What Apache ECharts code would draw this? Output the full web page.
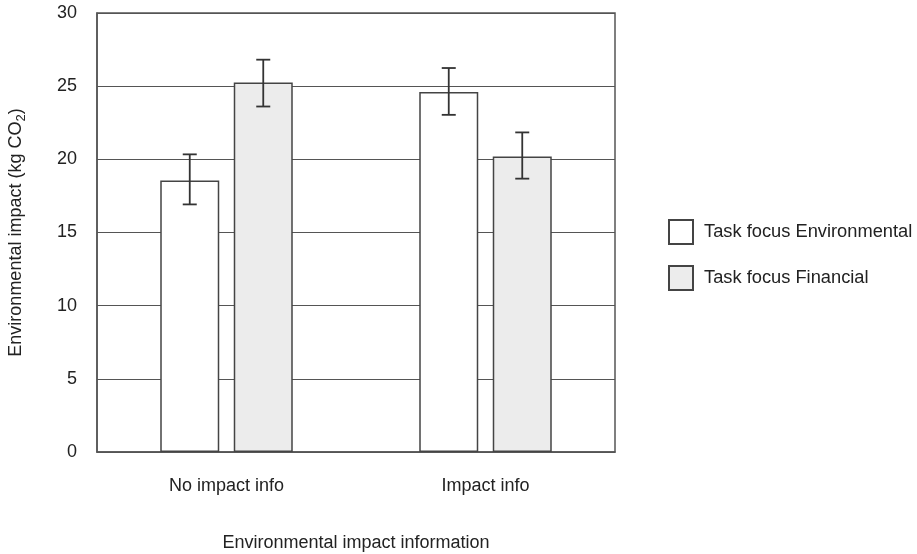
<!DOCTYPE html>
<html>
<head>
<meta charset="utf-8">
<script src="https://cdn.jsdelivr.net/npm/echarts@6/dist/echarts.min.js"></script>
<style>html,body{margin:0;padding:0;background:#fff}#c{width:917px;height:554px}</style>
</head>
<body>
<div id="c"></div>
<script>
var categories = ['No impact info', 'Impact info'];
var seriesNames = ['Task focus Environmental', 'Task focus Financial'];
var envMeans = [18.55, 24.6];
var finMeans = [25.25, 20.2];
var envLow = [16.92, 23.04];
var envHigh = [20.34, 26.24];
var finLow = [23.61, 18.68];
var finHigh = [26.81, 21.84];
var yTicks = { min: 0, max: 30, interval: 5 };

var FONT = '"Liberation Sans", Arial, sans-serif';
var BAR_W = 59, BAR_GAP = 14.5;

var errData = [];
for (var i = 0; i < categories.length; i++) {
  errData.push([i, 0, envLow[i], envHigh[i]]);
  errData.push([i, 1, finLow[i], finHigh[i]]);
}

var chart = echarts.init(document.getElementById('c'), null, {renderer: 'canvas'});
chart.setOption({
  animation: false,
  textStyle: { fontFamily: FONT },
  grid: { left: 97, top: 13, right: 302, bottom: 102, show: true, borderColor: '#555', borderWidth: 1.5, backgroundColor: 'transparent', containLabel: false, outerBoundsMode: 'none' },
  legend: {
    orient: 'vertical', left: 668, top: 219, padding: 0,
    itemWidth: 24, itemHeight: 24, itemGap: 20,
    icon: 'rect',
    textStyle: { fontSize: 18.3, color: '#222', fontFamily: FONT, padding: [0, 0, 0, 6] },
    data: seriesNames
  },
  xAxis: {
    type: 'category', data: categories,
    axisLine: { lineStyle: { color: '#555', width: 1.5 } },
    axisTick: { show: false },
    axisLabel: { fontSize: 18, color: '#222', margin: 25, fontFamily: FONT },
    name: 'Environmental impact information',
    nameLocation: 'middle', nameGap: 82,
    nameTextStyle: { fontSize: 18, color: '#222', fontFamily: FONT }
  },
  yAxis: {
    type: 'value', min: yTicks.min, max: yTicks.max, interval: yTicks.interval,
    axisLine: { show: true, lineStyle: { color: '#555', width: 1.5 } },
    axisTick: { show: false },
    axisLabel: { fontSize: 18, color: '#222', margin: 20, fontFamily: FONT },
    splitLine: { lineStyle: { color: '#555', width: 1 } },
    name: 'Environmental impact (kg CO{sub|2})',
    nameLocation: 'middle', nameGap: 69, nameRotate: 90,
    nameTextStyle: {
      fontSize: 18, color: '#222', fontFamily: FONT,
      rich: { sub: { fontSize: 13, color: '#222', fontFamily: FONT, verticalAlign: 'bottom', padding: [10, 0, 0, 0] } }
    }
  },
  series: [
    {
      name: seriesNames[0], type: 'bar', data: envMeans,
      barWidth: BAR_W, barGap: (BAR_GAP / BAR_W * 100) + '%',
      itemStyle: { color: '#ffffff', borderColor: '#444', borderWidth: 1.5 },
      z: 2
    },
    {
      name: seriesNames[1], type: 'bar', data: finMeans,
      barWidth: BAR_W,
      itemStyle: { color: '#ececec', borderColor: '#444', borderWidth: 1.5 },
      z: 2
    },
    {
      type: 'custom', data: errData, z: 5,
      renderItem: function (params, api) {
        var cat = api.value(0), s = api.value(1);
        var off = (s - 0.5) * (BAR_W + BAR_GAP);
        var lo = api.coord([cat, api.value(2)]);
        var hi = api.coord([cat, api.value(3)]);
        var x = lo[0] + off;
        var hw = 7;
        var st = { stroke: '#333', lineWidth: 1.8 };
        return {
          type: 'group',
          children: [
            { type: 'line', shape: { x1: x, y1: lo[1], x2: x, y2: hi[1] }, style: st },
            { type: 'line', shape: { x1: x - hw, y1: lo[1], x2: x + hw, y2: lo[1] }, style: st },
            { type: 'line', shape: { x1: x - hw, y1: hi[1], x2: x + hw, y2: hi[1] }, style: st }
          ]
        };
      }
    }
  ]
});
</script>
</body>
</html>
